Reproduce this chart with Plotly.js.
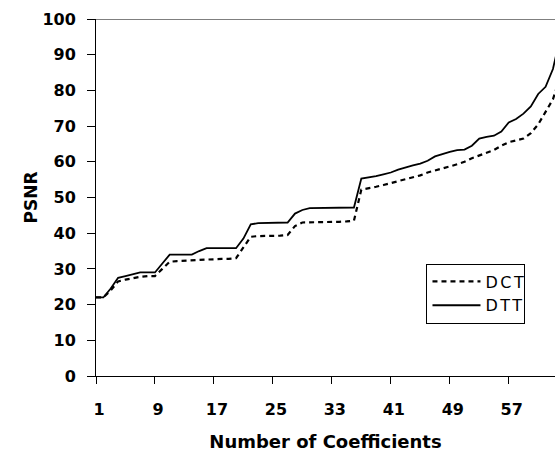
<!DOCTYPE html>
<html>
<head>
<meta charset="utf-8">
<script src="https://cdn.plot.ly/plotly-3.0.1.min.js"></script>
<style>html,body{margin:0;padding:0;background:#fff;}#chart{width:555px;height:455px;}
.legend .legendtext{letter-spacing:2.5px;}</style>
</head>
<body>
<div id="chart"></div>
<script>
// Coefficient counts 1..64
const coefficients = Array.from({length: 64}, (_, i) => i + 1);
const dctPSNR = [22, 22, 24, 26.5, 27, 27.5, 27.8, 28, 28, 30,
  32, 32.2, 32.3, 32.5, 32.5, 32.8, 32.8, 32.8, 32.8, 33,
  36, 39, 39.2, 39.2, 39.2, 39.3, 39.5, 42, 43, 43,
  43, 43, 43.2, 43.2, 43.3, 43.5, 52.2, 52.5, 53, 53.5,
  54, 54.5, 55, 55.5, 56.2, 57, 57.5, 58, 58.7, 59.3,
  60, 61, 61.8, 62.5, 63.3, 64.5, 65.5, 66, 66.5, 68,
  70.5, 74, 77.5, 84];
const dttPSNR = [22, 22, 24.5, 27.5, 28, 28.5, 29, 29, 29, 31.5,
  34, 34, 34, 34, 35, 35.8, 35.8, 35.8, 35.8, 35.8,
  38.5, 42.5, 42.8, 42.8, 42.8, 42.8, 43, 45.5, 46.5, 47,
  47, 47, 47, 47.2, 47.2, 47.2, 55.3, 55.6, 56, 56.5,
  57, 57.8, 58.5, 59, 59.5, 60.3, 61.5, 62.2, 62.8, 63.3,
  63.4, 64.5, 66.5, 67, 67.3, 68.5, 71, 72, 73.5, 75.5,
  79, 81, 86, 95];
const xTickVals = [1, 9, 17, 25, 33, 41, 49, 57];
const xTickText = ["1", "9", "17", "25", "33", "41", "49", "57"];
const yTickVals = [0, 10, 20, 30, 40, 50, 60, 70, 80, 90, 100];
const seriesNames = ["DCT", "DTT"];

const traces = [
  {x: coefficients, y: dctPSNR, name: seriesNames[0], type: 'scatter', mode: 'lines',
   line: {color: '#000', width: 2.2, dash: '5px,4px'}},
  {x: coefficients, y: dttPSNR, name: seriesNames[1], type: 'scatter', mode: 'lines',
   line: {color: '#000', width: 1.8}}
];

const layout = {
  width: 555, height: 455,
  margin: {l: 96, r: 0, t: 19, b: 79},
  paper_bgcolor: '#fff', plot_bgcolor: '#fff',
  showlegend: true,
  legend: {x: 0.72, y: 0.315, xanchor: 'left', yanchor: 'top',
    bordercolor: '#000', borderwidth: 1, bgcolor: '#fff',
    font: {family: 'DejaVu Sans', size: 16, color: '#000'},
    itemwidth: 48, tracegroupgap: 0},
  xaxis: {range: [1, 63.28], tickmode: 'array', tickvals: xTickVals, ticktext: xTickText,
    showgrid: false, zeroline: false, showline: true, linecolor: '#000', linewidth: 1,
    ticks: 'outside', ticklen: 7, tickcolor: '#000', ticklabelstandoff: 12, ticklabelshift: 3,
    tickfont: {family: 'DejaVu Sans', size: 16, color: '#000', weight: 'bold'},
    title: {text: 'Number of Coefficients', standoff: 17,
      font: {family: 'DejaVu Sans', size: 18, color: '#000', weight: 'bold'}}},
  yaxis: {range: [0, 100], tickmode: 'array', tickvals: yTickVals,
    showgrid: false, zeroline: false, showline: true, linecolor: '#000', linewidth: 1,
    ticks: 'outside', ticklen: 8, tickcolor: '#000', ticklabelstandoff: 8,
    tickfont: {family: 'DejaVu Sans', size: 16, color: '#000', weight: 'bold'},
    title: {text: 'PSNR', standoff: 0,
      font: {family: 'DejaVu Sans', size: 17, color: '#000', weight: 'bold'}}},
  shapes: [{type: 'line', xref: 'paper', yref: 'y', x0: 0, x1: 1, y0: 100, y1: 100,
    line: {color: '#000', width: 1}}]
};

Plotly.newPlot('chart', traces, layout, {displayModeBar: false, staticPlot: true});
</script>
</body>
</html>
